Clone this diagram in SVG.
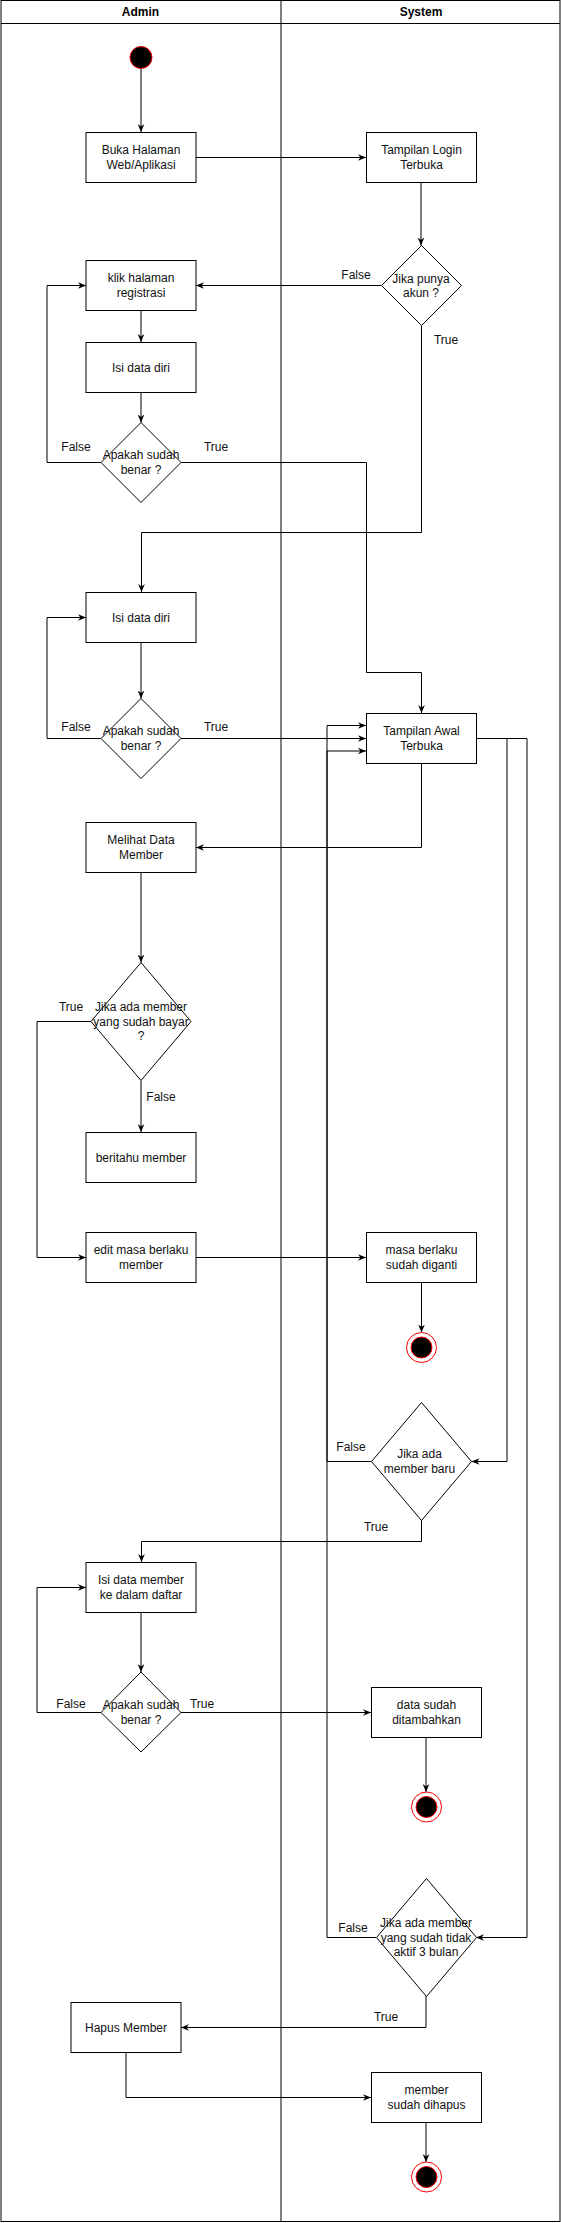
<svg xmlns="http://www.w3.org/2000/svg" width="561" height="2223" viewBox="0 0 561 2223">
<style>
.lane{fill:none;stroke:#000;stroke-width:1}
.box{fill:#fff;stroke:#000;stroke-width:1}
.dia{fill:#fff;stroke:#000;stroke-width:1}
.t{font-family:"Liberation Sans",Arial,Helvetica,sans-serif;font-size:12px;fill:#111;text-anchor:middle}
.h{font-family:"Liberation Sans",Arial,Helvetica,sans-serif;font-size:12px;font-weight:bold;fill:#000;text-anchor:middle}
.e{fill:none;stroke:#000;stroke-width:1;marker-end:url(#arr)}
.start{fill:#000;stroke:#ff0000;stroke-width:1}
.endo{fill:#fff;stroke:#ff0000;stroke-width:1}
.endi{fill:#000;stroke:#ff0000;stroke-width:1}
</style>
<defs>
<marker id="arr" viewBox="0 0 10 10" refX="10" refY="5" markerWidth="8" markerHeight="8" markerUnits="userSpaceOnUse" orient="auto">
<path d="M0,0.8 L10,5 L0,9.2 L3,5 z" fill="#000"/>
</marker>
</defs>
<rect width="561" height="2223" fill="#fff"/>
<g id="pool">
<rect class="lane" x="1" y="0.5" width="559" height="2221"/>
<line class="lane" x1="1" y1="23.5" x2="560" y2="23.5"/>
<line class="lane" x1="281" y1="0.5" x2="281" y2="2222" stroke-width="1.5"/>
<text class="h" x="140.5" y="16">Admin</text>
<text class="h" x="421" y="16">System</text>
</g>
<g id="connectors">
<path class="e" d="M141,68.5 V132"/>
<path class="e" d="M196,157.5 H366"/>
<path class="e" d="M421,182 V245.5"/>
<path class="e" d="M381,285.5 H196"/>
<path class="e" d="M141,310 V342"/>
<path class="e" d="M141,392 V422.5"/>
<path class="e" d="M101,462.5 H47 V285.5 H86"/>
<path class="e" d="M181,462.5 H366.5 V672.5 H421.5 V713"/>
<path class="e" d="M421.5,325.5 V532.5 H141.5 V592"/>
<path class="e" d="M141,642 V698.5"/>
<path class="e" d="M101,738.5 H47 V617.5 H86"/>
<path class="e" d="M181,738.5 H366"/>
<path class="e" d="M421.5,763 V847.5 H196"/>
<path class="e" d="M141,872 V962.5"/>
<path class="e" d="M91,1021.5 H37 V1257.5 H86"/>
<path class="e" d="M141,1080.5 V1132"/>
<path class="e" d="M196,1257.5 H366"/>
<path class="e" d="M421.5,1282 V1332.5"/>
<path class="e" d="M476,738.5 H507 V1461.5 H471.5"/>
<path class="e" d="M476,738.5 H527 V1937.5 H476"/>
<path class="e" d="M371.5,1461.5 H327 V725.5 H366"/>
<path class="e" d="M376,1937.5 H327 V751 H366"/>
<path class="e" d="M421.5,1520.5 V1541.5 H141.5 V1562"/>
<path class="e" d="M141,1612 V1672"/>
<path class="e" d="M101,1712.5 H37 V1587.5 H86"/>
<path class="e" d="M181,1712.5 H371"/>
<path class="e" d="M426,1737 V1792"/>
<path class="e" d="M426,1996 V2027.5 H181"/>
<path class="e" d="M126,2052 V2097.5 H371"/>
<path class="e" d="M426,2122 V2162"/>
<text class="t" x="356" y="279">False</text>
<text class="t" x="446" y="344">True</text>
<text class="t" x="76" y="451">False</text>
<text class="t" x="216" y="451">True</text>
<text class="t" x="76" y="731">False</text>
<text class="t" x="216" y="731">True</text>
<text class="t" x="71" y="1011">True</text>
<text class="t" x="161" y="1101">False</text>
<text class="t" x="351" y="1451">False</text>
<text class="t" x="376" y="1531">True</text>
<text class="t" x="71" y="1707.5">False</text>
<text class="t" x="202" y="1707.5">True</text>
<text class="t" x="353" y="1932">False</text>
<text class="t" x="386" y="2021">True</text>
</g>
<g id="start"><circle class="start" cx="141" cy="57.5" r="11"/></g>
<g id="buka"><rect class="box" x="86" y="132.5" width="110" height="50"/><text class="t" x="141" y="154">Buka Halaman</text><text class="t" x="141" y="168.5">Web/Aplikasi</text></g>
<g id="login"><rect class="box" x="366.5" y="132.5" width="110" height="50"/><text class="t" x="421.5" y="154">Tampilan Login</text><text class="t" x="421.5" y="168.5">Terbuka</text></g>
<g id="d_akun"><path class="dia" d="M421.5,245.5 L461.5,285.5 L421.5,325.5 L381.5,285.5 Z"/><text class="t" x="421" y="282.5">Jika punya</text><text class="t" x="421" y="297">akun ?</text></g>
<g id="klik"><rect class="box" x="86" y="260.5" width="110" height="50"/><text class="t" x="141" y="282">klik halaman</text><text class="t" x="141" y="296.5">registrasi</text></g>
<g id="isi1"><rect class="box" x="86" y="342.5" width="110" height="50"/><text class="t" x="141" y="371.5">Isi data diri</text></g>
<g id="d_benar1"><path class="dia" d="M141,422.5 L181,462.5 L141,502.5 L101,462.5 Z"/><text class="t" x="141" y="459">Apakah sudah</text><text class="t" x="141" y="473.5">benar ?</text></g>
<g id="isi2"><rect class="box" x="86" y="592.5" width="110" height="50"/><text class="t" x="141" y="621.5">Isi data diri</text></g>
<g id="d_benar2"><path class="dia" d="M141,698.5 L181,738.5 L141,778.5 L101,738.5 Z"/><text class="t" x="141" y="735">Apakah sudah</text><text class="t" x="141" y="749.5">benar ?</text></g>
<g id="awal"><rect class="box" x="366.5" y="713.5" width="110" height="50"/><text class="t" x="421.5" y="735">Tampilan Awal</text><text class="t" x="421.5" y="749.5">Terbuka</text></g>
<g id="melihat"><rect class="box" x="86" y="822.5" width="110" height="50"/><text class="t" x="141" y="844">Melihat Data</text><text class="t" x="141" y="858.5">Member</text></g>
<g id="d_bayar"><path class="dia" d="M141,962.5 L191,1021.5 L141,1080.5 L91,1021.5 Z"/><text class="t" x="141" y="1011">Jika ada member</text><text class="t" x="141" y="1025.5">yang sudah bayar</text><text class="t" x="141" y="1040">?</text></g>
<g id="beritahu"><rect class="box" x="86" y="1132.5" width="110" height="50"/><text class="t" x="141" y="1161.5">beritahu member</text></g>
<g id="edit"><rect class="box" x="86" y="1232.5" width="110" height="50"/><text class="t" x="141" y="1254">edit masa berlaku</text><text class="t" x="141" y="1268.5">member</text></g>
<g id="masa"><rect class="box" x="366.5" y="1232.5" width="110" height="50"/><text class="t" x="421.5" y="1254">masa berlaku</text><text class="t" x="421.5" y="1268.5">sudah diganti</text></g>
<g id="end1"><circle class="endo" cx="421.5" cy="1347.5" r="15"/><circle class="endi" cx="421.5" cy="1347.5" r="10.5"/></g>
<g id="d_baru"><path class="dia" d="M421.5,1402.5 L471.5,1461.5 L421.5,1520.5 L371.5,1461.5 Z"/><text class="t" x="419.5" y="1458">Jika ada</text><text class="t" x="419.5" y="1472.5">member baru</text></g>
<g id="isidm"><rect class="box" x="86" y="1562.5" width="110" height="50"/><text class="t" x="141" y="1584">Isi data member</text><text class="t" x="141" y="1598.5">ke dalam daftar</text></g>
<g id="d_benar3"><path class="dia" d="M141,1672 L181,1712.5 L141,1752 L101,1712.5 Z"/><text class="t" x="141" y="1709">Apakah sudah</text><text class="t" x="141" y="1723.5">benar ?</text></g>
<g id="datasudah"><rect class="box" x="371.5" y="1687.5" width="110" height="50"/><text class="t" x="426.5" y="1709">data sudah</text><text class="t" x="426.5" y="1723.5">ditambahkan</text></g>
<g id="end2"><circle class="endo" cx="426.5" cy="1807" r="15"/><circle class="endi" cx="426.5" cy="1807" r="10.5"/></g>
<g id="d_3bulan"><path class="dia" d="M426.5,1878.5 L476.5,1937.5 L426.5,1996.5 L376.5,1937.5 Z"/><text class="t" x="426" y="1927">Jika ada member</text><text class="t" x="426" y="1941.5">yang sudah tidak</text><text class="t" x="426" y="1956">aktif 3 bulan</text></g>
<g id="hapus"><rect class="box" x="71" y="2002.5" width="110" height="50"/><text class="t" x="126" y="2031.5">Hapus Member</text></g>
<g id="dihapus"><rect class="box" x="371.5" y="2072.5" width="110" height="50"/><text class="t" x="426.5" y="2094">member</text><text class="t" x="426.5" y="2108.5">sudah dihapus</text></g>
<g id="end3"><circle class="endo" cx="426.5" cy="2177" r="15"/><circle class="endi" cx="426.5" cy="2177" r="10.5"/></g>
</svg>
